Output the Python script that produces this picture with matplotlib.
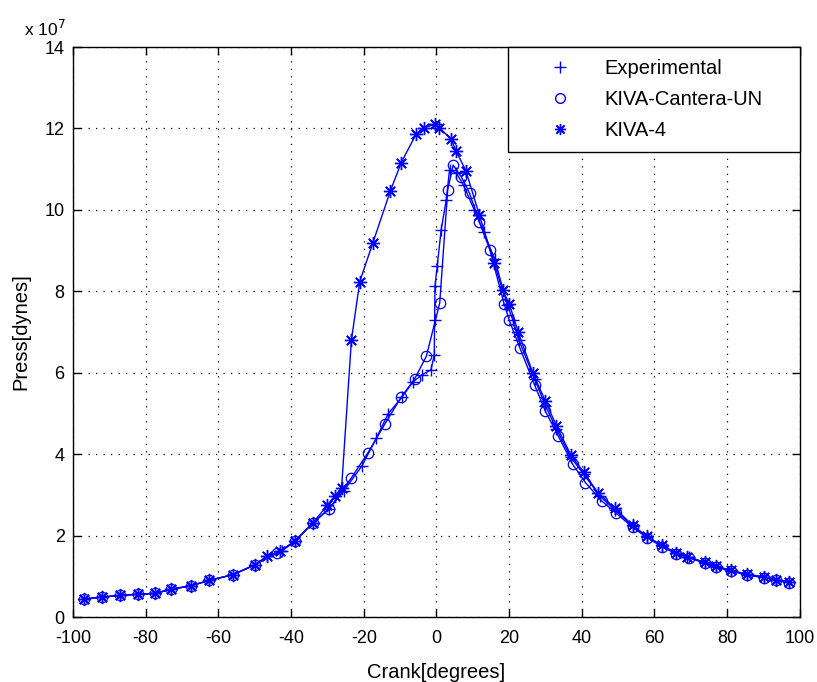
import matplotlib
matplotlib.use("Agg")
import matplotlib.pyplot as plt
from matplotlib.lines import Line2D

plt.rcParams['font.family'] = ['Liberation Sans', 'DejaVu Sans']
plt.rcParams['axes.unicode_minus'] = False

# crank angle [deg] and pressure [x 1e7 dynes]
exp_x = [-97, -92, -87, -82, -77.5, -73, -67.5, -62.5, -56, -50, -46.5, -42.5, -39, -34,
         -29.5, -25.5, -20.5, -16.5, -13.3, -9.5, -6.5, -4, -1.5, -0.6, -0.5, -0.4, 0.2,
         1.3, 2.7, 3.6, 5.5, 7.5, 10.4, 13, 16, 19.5, 21, 22.7, 27, 30, 33, 37, 40.5,
         45, 49, 54, 58, 62, 66, 69.5, 74, 77, 81, 85.5, 90, 93.5, 97]
exp_y = [0.44, 0.49, 0.53, 0.56, 0.58, 0.68, 0.77, 0.90, 1.04, 1.28, 1.50, 1.62, 1.86, 2.31,
         2.66, 3.10, 3.71, 4.40, 4.99, 5.40, 5.77, 5.95, 6.07, 6.44, 7.30, 8.12, 8.61,
         9.51, 10.25, 10.98, 10.9, 10.6, 10.0, 9.45, 8.8, 7.66, 7.3, 6.8, 5.85, 5.19,
         4.62, 3.92, 3.51, 2.97, 2.64, 2.23, 1.97, 1.75, 1.57, 1.47, 1.33, 1.24, 1.14,
         1.04, 0.98, 0.91, 0.85]

can_x = [-97, -92, -87, -82, -77.5, -73, -67.5, -62.5, -56, -50, -44, -39, -34, -29.5,
         -23.4, -18.8, -14.2, -9.7, -6, -2.8, 0.9, 3.1, 4.6, 6.8, 9.1, 11.8, 14.7, 18.6,
         20, 23, 27, 30, 33.5, 37.5, 41, 45.5, 49.5, 54, 58, 62, 66, 69.5, 74, 77, 81,
         85.5, 90, 93.5, 97]
can_y = [0.44, 0.49, 0.53, 0.56, 0.58, 0.68, 0.77, 0.90, 1.04, 1.28, 1.56, 1.86, 2.31, 2.66,
         3.42, 4.04, 4.74, 5.40, 5.85, 6.40, 7.71, 10.49, 11.1, 10.82, 10.41, 9.71, 9.02,
         7.70, 7.3, 6.6, 5.7, 5.05, 4.45, 3.75, 3.3, 2.85, 2.55, 2.2, 1.95, 1.73, 1.55,
         1.45, 1.32, 1.22, 1.13, 1.03, 0.97, 0.90, 0.84]

k4_x = [-97, -92, -87, -82, -77.5, -73, -67.5, -62.5, -56, -50, -46.5, -43, -39, -34, -30,
        -28, -26.1, -23.4, -21.1, -17.5, -12.7, -9.7, -5.6, -3.3, -0.5, 0.8, 4.0, 5.4,
        8.1, 11.8, 15.9, 18.2, 20, 22.5, 26.5, 30, 33, 37, 40.5, 44.5, 49, 54, 58, 62,
        66, 69, 74, 77, 81, 85.5, 90, 93.5, 97]
k4_y = [0.44, 0.49, 0.53, 0.56, 0.58, 0.68, 0.77, 0.90, 1.04, 1.28, 1.50, 1.62, 1.86, 2.31,
        2.75, 2.97, 3.18, 6.80, 8.24, 9.19, 10.46, 11.16, 11.86, 12.02, 12.1, 12.02,
        11.74, 11.45, 10.96, 9.88, 8.69, 8.03, 7.7, 7.0, 6.0, 5.3, 4.7, 3.98, 3.55, 3.05,
        2.68, 2.25, 1.98, 1.76, 1.58, 1.48, 1.34, 1.25, 1.15, 1.05, 0.99, 0.92, 0.86]

labels = ['Experimental', 'KIVA-Cantera-UN', 'KIVA-4']

blue = '#0000ff'
star = (8, 2, 0)

fig = plt.figure(figsize=(8.17, 6.82), dpi=100)
ax = fig.add_axes([0.0894, 0.0953, 0.8896, 0.8357])

ax.plot(exp_x, [v * 1e7 for v in exp_y], color=blue, lw=1.0, marker='+', ms=8, mew=1.0)
ax.plot(can_x, [v * 1e7 for v in can_y], color=blue, lw=1.0, marker='o', ms=7.5,
        mfc='none', mew=0.9)
ax.plot(k4_x, [v * 1e7 for v in k4_y], color=blue, lw=1.0, marker=star, ms=9.5, mew=1.0)

ax.set_xlim(-100, 100)
ax.set_ylim(0, 14e7)
ax.set_xticks(range(-100, 101, 20))
ax.set_yticks([i * 2e7 for i in range(8)])
ax.set_yticklabels([str(i * 2) for i in range(8)])
ax.tick_params(direction='in', labelsize=13, length=6, width=1.0,
               top=True, right=True, pad=6)
ax.tick_params(axis='x', pad=9)
ax.grid(True, color='k', linestyle=(0, (1, 5)), lw=0.9)
for s in ax.spines.values():
    s.set_linewidth(1.0)

ax.set_xlabel('Crank[degrees]', fontsize=14.5, labelpad=12)
ax.set_ylabel('Press[dynes]', fontsize=14.5, labelpad=10)
ax.text(-0.068, 1.014, r'x 10$^{7}$', transform=ax.transAxes, fontsize=12.5,
        ha='left', va='bottom')

handles = [
    Line2D([], [], ls='none', marker='+', color=blue, ms=8),
    Line2D([], [], ls='none', marker='o', color=blue, mfc='none', ms=7),
    Line2D([], [], ls='none', marker=star, color=blue, ms=8),
]
leg = ax.legend(handles, labels, loc='upper left', bbox_to_anchor=(0.598, 0.8, 0.402, 0.2),
                mode='expand', borderaxespad=0, fancybox=False, fontsize=14.5,
                handlelength=4, handletextpad=0.2, borderpad=0.6, labelspacing=0.6)
leg.get_frame().set_edgecolor('k')
leg.get_frame().set_linewidth(1.0)
leg.get_frame().set_alpha(1.0)

plt.savefig("out.png", dpi=100)
